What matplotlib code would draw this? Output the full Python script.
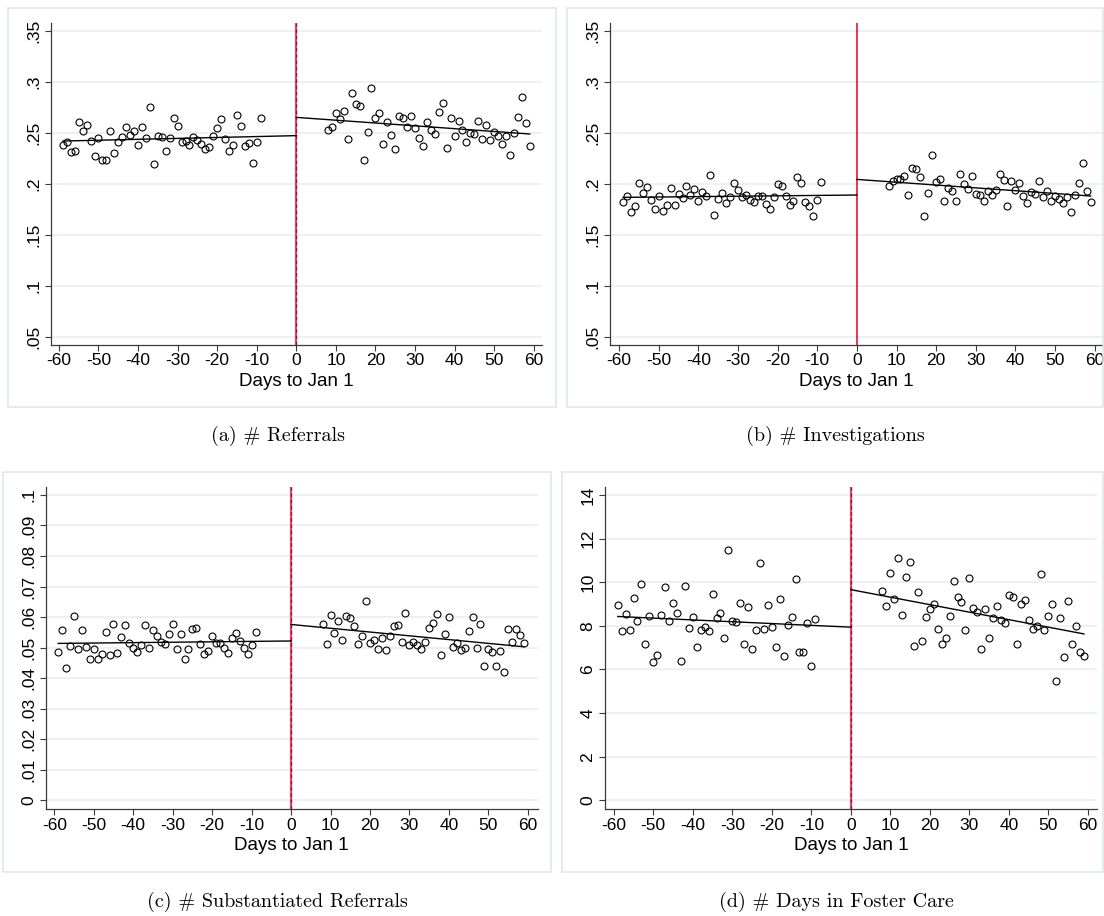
import matplotlib

matplotlib.use("Agg")

import matplotlib.pyplot as plt
import numpy as np
from matplotlib.patches import Rectangle

plt.rcParams["font.family"] = ["Liberation Sans", "DejaVu Sans"]
plt.rcParams["axes.unicode_minus"] = False

# days relative to Jan 1 (holiday window left out of the scatter)
days_pre = np.arange(-59, -8)
days_post = np.arange(8, 60)
x_ticks = np.arange(-60, 61, 10)
fit_days_pre = [-59, 0]
fit_days_post = [0, 59]

# (a) referrals per day
referrals_pre = [
    .2376, .2408, .2307, .2317, .2605, .2513, .2578, .2415, .2275, .2444,
    .2229, .2229, .2516, .2304, .2412, .2454, .2552, .2480, .2513, .2376,
    .2552, .2448, .2752, .2193, .2464, .2458, .2324, .2448, .2644, .2565,
    .2408, .2418, .2376, .2454, .2428, .2389, .2340, .2356, .2467, .2546,
    .2634, .2435, .2324, .2382, .2670, .2562, .2369, .2402, .2203, .2408,
    .2644,
]
referrals_post = [
    .2529, .2559, .2690, .2631, .2712, .2435, .2886, .2781, .2758, .2229,
    .2510, .2941, .2641, .2690, .2389, .2605, .2477, .2340, .2660, .2644,
    .2556, .2660, .2546, .2448, .2366, .2605, .2526, .2484, .2699, .2791,
    .2350, .2641, .2464, .2614, .2526, .2412, .2493, .2484, .2618, .2438,
    .2575, .2428, .2507, .2471, .2389, .2464, .2284, .2500, .2654, .2846,
    .2595, .2366,
]
referrals_fit_pre = [.2418, .2471]
referrals_fit_post = [.2650, .2487]

# (b) investigations per day
investigations_pre = [
    .1817, .1876, .1722, .1781, .2010, .1905, .1964, .1840, .1755, .1882,
    .1732, .1788, .1954, .1791, .1899, .1863, .1980, .1892, .1944, .1827,
    .1922, .1882, .2088, .1696, .1853, .1905, .1807, .1873, .2010, .1938,
    .1873, .1889, .1840, .1820, .1882, .1879, .1797, .1755, .1873, .1997,
    .1977, .1876, .1788, .1830, .2065, .2003, .1817, .1781, .1683, .1837,
    .2020,
]
investigations_post = [
    .1980, .2026, .2042, .2046, .2078, .1889, .2157, .2144, .2062, .1683,
    .1905, .2278, .2016, .2049, .1833, .1954, .1931, .1830, .2095, .1997,
    .1948, .2075, .1899, .1886, .1827, .1925, .1886, .1935, .2098, .2036,
    .1784, .2026, .1938, .2003, .1879, .1807, .1918, .1895, .2026, .1873,
    .1928, .1827, .1882, .1850, .1814, .1866, .1725, .1892, .2003, .2199,
    .1928, .1824,
]
investigations_fit_pre = [.1866, .1889]
investigations_fit_post = [.2042, .1879]

# (c) substantiated referrals per day
substantiated_pre = [
    .0487, .0558, .0433, .0507, .0604, .0495, .0557, .0501, .0462, .0495,
    .0463, .0479, .0552, .0475, .0579, .0484, .0535, .0574, .0516, .0499,
    .0485, .0509, .0574, .0498, .0557, .0537, .0519, .0511, .0545, .0576,
    .0496, .0546, .0462, .0497, .0561, .0564, .0512, .0480, .0488, .0539,
    .0516, .0515, .0500, .0483, .0531, .0549, .0523, .0500, .0480, .0509,
    .0552,
]
substantiated_post = [
    .0578, .0511, .0608, .0548, .0588, .0524, .0604, .0596, .0570, .0513,
    .0537, .0653, .0514, .0525, .0497, .0533, .0492, .0537, .0571, .0573,
    .0519, .0615, .0508, .0519, .0510, .0495, .0520, .0566, .0582, .0609,
    .0476, .0546, .0600, .0503, .0514, .0493, .0500, .0555, .0600, .0499,
    .0579, .0440, .0495, .0487, .0439, .0490, .0419, .0562, .0519, .0560,
    .0543, .0514,
]
substantiated_fit_pre = [.0514, .0522]
substantiated_fit_post = [.0576, .0503]

# (d) days in foster care
foster_pre = [
    8.95, 7.76, 8.56, 7.80, 9.28, 8.20, 9.91, 7.15, 8.46, 6.35,
    6.66, 8.52, 9.76, 8.23, 9.07, 8.58, 6.37, 9.82, 7.89, 8.41,
    7.01, 7.79, 7.97, 7.77, 9.45, 8.35, 8.60, 7.45, 11.50, 8.23,
    8.17, 9.04, 7.18, 8.87, 6.95, 7.80, 10.87, 7.85, 8.95, 7.94,
    7.04, 9.22, 6.63, 8.03, 8.41, 10.15, 6.82, 6.79, 8.11, 6.15,
    8.32,
]
foster_post = [
    9.59, 8.92, 10.43, 9.22, 11.10, 8.49, 10.23, 10.92, 7.07, 9.57,
    7.30, 8.40, 8.79, 8.99, 7.86, 7.15, 7.44, 8.47, 10.06, 9.34,
    9.08, 7.80, 10.21, 8.82, 8.63, 6.92, 8.79, 7.44, 8.34, 8.93,
    8.27, 8.12, 9.40, 9.31, 7.15, 9.01, 9.18, 8.29, 7.86, 7.98,
    10.37, 7.82, 8.44, 9.02, 5.47, 8.34, 6.58, 9.13, 7.18, 7.98,
    6.81, 6.60,
]
foster_fit_pre = [8.43, 7.94]
foster_fit_post = [9.66, 7.63]

share_ticks = [.05, .1, .15, .2, .25, .3, .35]
share_labels = [".05", ".1", ".15", ".2", ".25", ".3", ".35"]
subst_ticks = [0, .01, .02, .03, .04, .05, .06, .07, .08, .09, .1]
subst_labels = ["0", ".01", ".02", ".03", ".04", ".05", ".06", ".07", ".08", ".09", ".1"]
foster_ticks = [0, 2, 4, 6, 8, 10, 12, 14]
foster_labels = ["0", "2", "4", "6", "8", "10", "12", "14"]

captions = [
    "(a) # Referrals",
    "(b) # Investigations",
    "(c) # Substantiated Referrals",
    "(d) # Days in Foster Care",
]

W, H = 1104, 916
GRID = "#e9f0f2"
FRAME = "#dfe7eb"


def px_rect(left, top, right, bottom):
    """Pixel box (from top-left) -> figure fraction [l, b, w, h]."""
    return [left / W, 1 - bottom / H, (right - left) / W, (bottom - top) / H]


def draw_panel(ax, pre, post, fit_pre, fit_post, yticks, ylabels, ylim, xlim, rule):
    ax.set_xlim(*xlim)
    ax.set_ylim(*ylim)
    ax.set_yticks(yticks, ylabels, rotation=90, va="center")
    ax.set_xticks(x_ticks, [str(t) for t in x_ticks])
    ax.yaxis.grid(True, color=GRID, linewidth=1.2)
    ax.set_axisbelow(True)
    for side in ["top", "right"]:
        ax.spines[side].set_visible(False)
    for side in ["left", "bottom"]:
        ax.spines[side].set_color("#3a3a3a")
        ax.spines[side].set_linewidth(0.9)
    ax.tick_params(direction="out", length=4, width=0.8, color="#3a3a3a",
                   labelsize=12.5, pad=2)
    ax.tick_params(axis="y", pad=3)

    rule(ax)
    ax.plot(days_pre, pre, "o", mfc="none", mec="black", ms=5, mew=0.8)
    ax.plot(days_post, post, "o", mfc="none", mec="black", ms=5, mew=0.8)
    ax.plot(fit_days_pre, fit_pre, color="black", lw=1.0)
    ax.plot(fit_days_post, fit_post, color="black", lw=1.0)
    ax.set_xlabel("Days to Jan 1", fontsize=13.5, labelpad=3)


def pink_rule(ax):
    ax.axvline(0, color="#d6506f", lw=1.6, zorder=1)
    ax.axvline(0, color="#b8002e", lw=0.9, dashes=(3, 2), zorder=1)


def red_rule(ax):
    ax.axvline(0, color="#e0001b", lw=1.1, zorder=1)


fig = plt.figure(figsize=(W / 100, H / 100), dpi=100)

# light frames around each graph region
for left, top, right, bottom in [(8, 8, 556, 407), (567, 8, 1103, 407),
                                 (3, 472, 551, 872), (562, 472, 1103, 872)]:
    l, b, w, h = px_rect(left, top, right, bottom)
    fig.patches.append(Rectangle((l, b), w, h, transform=fig.transFigure,
                                 fill=False, edgecolor=FRAME, linewidth=1.2))

ax_a = fig.add_axes(px_rect(51, 22.7, 542, 345))
draw_panel(ax_a, referrals_pre, referrals_post, referrals_fit_pre, referrals_fit_post,
           share_ticks, share_labels, (.0419, .3578), (-62, 62.1), pink_rule)

ax_b = fig.add_axes(px_rect(610, 22.7, 1103, 345))
draw_panel(ax_b, investigations_pre, investigations_post, investigations_fit_pre,
           investigations_fit_post, share_ticks, share_labels, (.0419, .3578),
           (-62.3, 62.1), red_rule)

ax_c = fig.add_axes(px_rect(45.6, 486.7, 537.7, 809.3))
draw_panel(ax_c, substantiated_pre, substantiated_post, substantiated_fit_pre,
           substantiated_fit_post, subst_ticks, subst_labels, (-.0029, .1027),
           (-62.2, 62.5), pink_rule)

ax_d = fig.add_axes(px_rect(605.1, 486.7, 1097, 809.3))
draw_panel(ax_d, foster_pre, foster_post, foster_fit_pre, foster_fit_post,
           foster_ticks, foster_labels, (-.41, 14.38), (-62.2, 62.3), pink_rule)

# subfigure captions in a LaTeX-like serif
for (cx, cy), text in zip([(278, 436), (835, 436), (277, 902), (836, 902)], captions):
    fig.text(cx / W, 1 - cy / H, text, ha="center", va="center",
             fontsize=14.5, family=["cmr10", "DejaVu Serif"])

fig.savefig("out.png", dpi=100)
plt.close(fig)
